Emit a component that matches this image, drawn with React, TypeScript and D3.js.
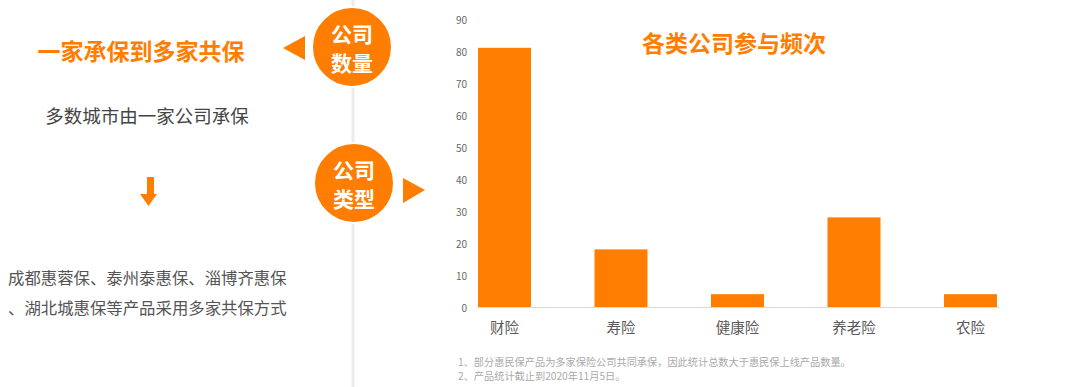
import React from 'react';
import * as d3 from 'd3';

// chart data
const categories = ['财险', '寿险', '健康险', '养老险', '农险'];
const counts = [81, 18, 4, 28, 4];
const yTicks = [0, 10, 20, 30, 40, 50, 60, 70, 80, 90];

// side panel text
const leftTitle = '一家承保到多家共保';
const leftSub = '多数城市由一家公司承保';
const leftLines = ['成都惠蓉保、泰州泰惠保、淄博齐惠保', '、湖北城惠保等产品采用多家共保方式'];
const badges = [['公司', '数量'], ['公司', '类型']];
const chartTitle = '各类公司参与频次';
const notes = [
  '1、部分惠民保产品为多家保险公司共同承保，因此统计总数大于惠民保上线产品数量。',
  '2、产品统计截止到2020年11月5日。',
];

const ORANGE = '#FF7D00';
const FONT = '"Noto Sans CJK SC", "Noto Sans", sans-serif';

const App = () => {
  const width = 1080;
  const height = 387;

  // scales
  const x = d3.scaleBand<string>()
    .domain(categories)
    .range([478, 997])
    .paddingInner(0.545)
    .paddingOuter(0);
  const y = d3.scaleLinear().domain([0, 90]).range([307, 19]);

  return (
    <div style={{ position: 'absolute', left: 0, top: 0 }}>
      <svg width={width} height={height} style={{ display: 'block', fontFamily: FONT }}>
        <rect width={width} height={height} fill="#fff" />

        {/* divider line */}
        <line x1={353} x2={353} y1={0} y2={height} stroke="#ececec" strokeWidth={3} />

        {/* badges */}
        {badges.map((b, i) => {
          const cx = i === 0 ? 352 : 354;
          const cy = i === 0 ? 47 : 183;
          return (
            <g key={i}>
              <circle cx={cx} cy={cy} r={40} fill={ORANGE} stroke="#fff" strokeWidth={2} />
              <text x={cx} y={cy - 14} textAnchor="middle" dominantBaseline="central"
                fill="#fff" fontSize={21} fontWeight={700}>{b[0]}</text>
              <text x={cx} y={cy + 15} textAnchor="middle" dominantBaseline="central"
                fill="#fff" fontSize={21} fontWeight={700}>{b[1]}</text>
            </g>
          );
        })}
        <path d="M283,48 L305,36 L305,60 Z" fill={ORANGE} />
        <path d="M425,190 L403,178 L403,203 Z" fill={ORANGE} />

        {/* left text */}
        <text x={141} y={50} textAnchor="middle" dominantBaseline="central"
          fill={ORANGE} fontSize={23} fontWeight={700}>{leftTitle}</text>
        <text x={147} y={115} textAnchor="middle" dominantBaseline="central"
          fill="#444" fontSize={18.5}>{leftSub}</text>
        <rect x={147} y={177} width={7} height={18} fill={ORANGE} />
        <path d="M140,194 L157,194 L148.5,206 Z" fill={ORANGE} />
        {leftLines.map((t, i) => (
          <text key={i} x={8} y={277 + i * 30} dominantBaseline="central"
            fill="#555" fontSize={16.4}>{t}</text>
        ))}

        {/* chart title */}
        <text x={734} y={42} textAnchor="middle" dominantBaseline="central"
          fill={ORANGE} fontSize={23} fontWeight={700}>{chartTitle}</text>

        {/* y tick labels */}
        {yTicks.map(t => (
          <text key={t} x={467} y={y(t)} textAnchor="end" dominantBaseline="central"
            fill="#666" fontSize={10}>{t}</text>
        ))}

        {/* bars */}
        {categories.map((c, i) => (
          <rect key={c} x={x(c)} y={y(counts[i])} width={x.bandwidth()}
            height={y(0) - y(counts[i])} fill={ORANGE} />
        ))}

        {/* baseline */}
        <line x1={477} x2={999} y1={y(0) + 0.5} y2={y(0) + 0.5} stroke="#d9d9d9" strokeWidth={1} />

        {/* category labels */}
        {categories.map(c => (
          <text key={c} x={(x(c) ?? 0) + x.bandwidth() / 2} y={326} textAnchor="middle"
            dominantBaseline="central" fill="#595959" fontSize={14.5}>{c}</text>
        ))}

        {/* notes */}
        {notes.map((n, i) => (
          <text key={i} x={458} y={361.5 + i * 13.5} dominantBaseline="central"
            fill="#aaa" fontSize={10.2}>{n}</text>
        ))}
      </svg>
    </div>
  );
};

export default App;
